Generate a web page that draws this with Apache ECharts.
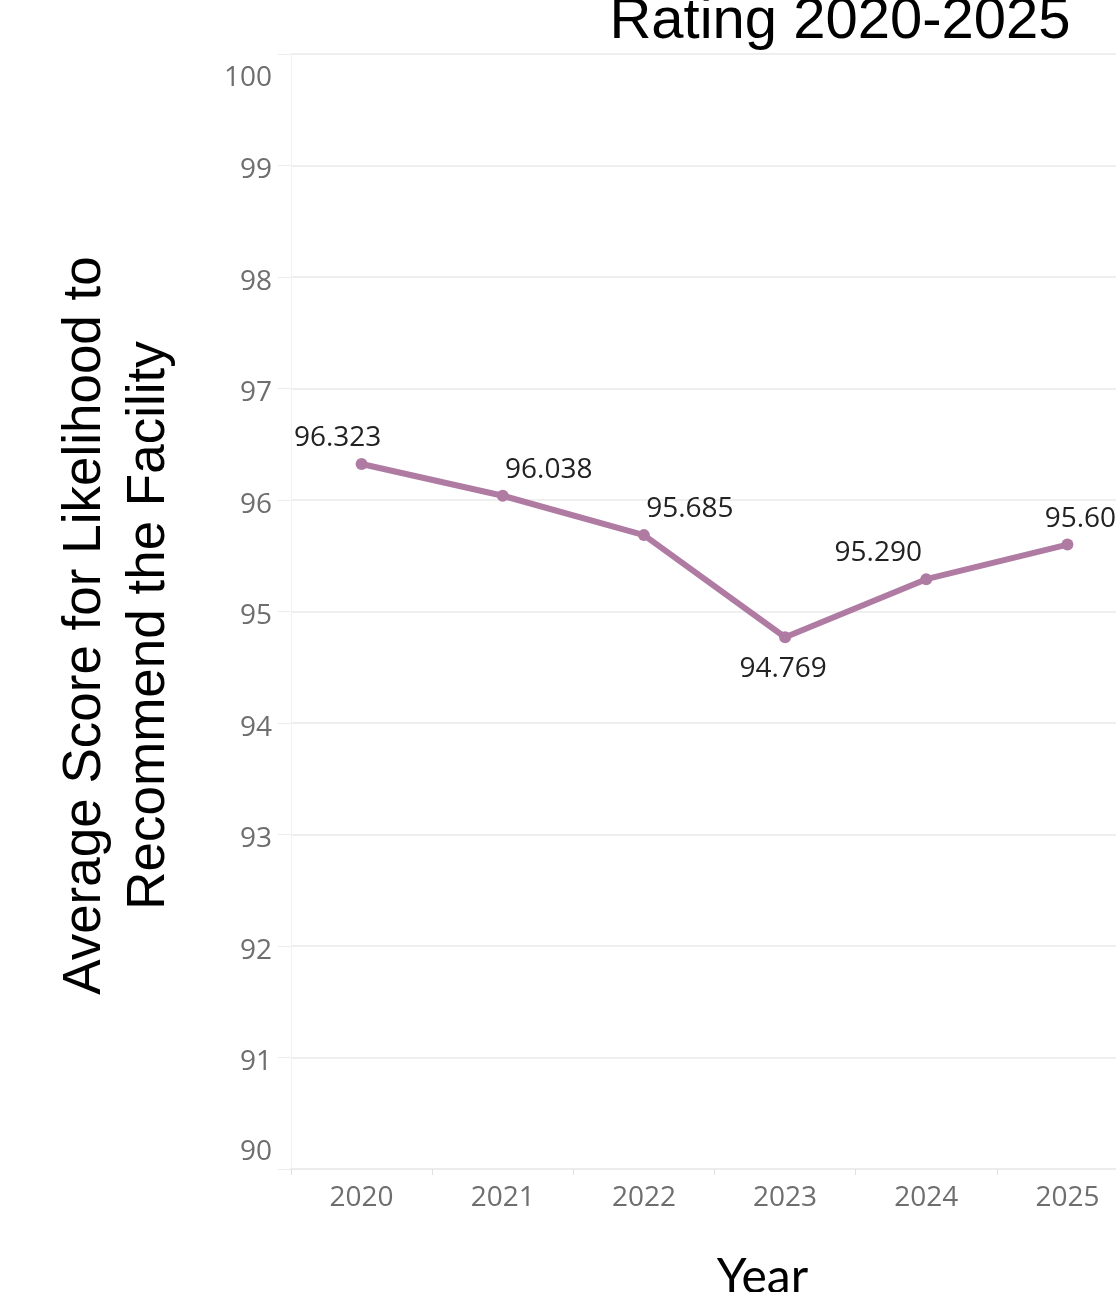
<!DOCTYPE html>
<html>
<head>
<meta charset="utf-8">
<script src="https://cdn.jsdelivr.net/npm/echarts@6/dist/echarts.min.js"></script>
<style>
html,body{margin:0;padding:0;background:#fff;}
#chart{width:1116px;height:1292px;}
</style>
</head>
<body>
<div id="chart"></div>
<script>
// ---- data ----
const years = ['2020', '2021', '2022', '2023', '2024', '2025'];
const scores = [96.323, 96.038, 95.685, 94.769, 95.290, 95.600];
const yMin = 90;
const yMax = 100;
const yStep = 1;
const titleText = 'Rating 2020-2025';
const yName = 'Average Score for Likelihood to\nRecommend the Facility';
const xName = 'Year';

// label placement (style only)
const labelDx = [-24, 46, 46, -2, -48, 21];
const labelPos = ['top', 'top', 'top', 'bottom', 'top', 'top'];

const chart = echarts.init(document.getElementById('chart'), null, {renderer: 'canvas'});

const seriesData = scores.map((v, i) => ({
  value: v,
  label: {position: labelPos[i], offset: [labelDx[i], 3]}
}));

const option = {
  backgroundColor: '#ffffff',
  animation: false,
  title: {
    text: titleText,
    left: 835,
    top: -12,
    textAlign: 'center',
    textStyle: {fontFamily: 'Liberation Sans', fontSize: 58, fontWeight: 'normal', color: '#000'}
  },
  grid: {left: 291, top: 54, right: -22, bottom: 123, containLabel: false, outerBoundsMode: 'none'},
  xAxis: {
    type: 'category',
    data: years,
    boundaryGap: true,
    name: xName,
    nameLocation: 'middle',
    nameGap: 85,
    nameTextStyle: {fontFamily: 'Lato', fontSize: 48, color: '#000', padding: [0, 0, 0, 96]},
    axisLine: {show: true, lineStyle: {color: '#ececec', width: 2}},
    axisTick: {show: true, alignWithLabel: false, length: 6, lineStyle: {color: '#e0e0e0', width: 1}},
    axisLabel: {margin: 15, fontFamily: 'Open Sans', fontSize: 28, color: '#6e6e6e'},
    splitLine: {show: false}
  },
  yAxis: {
    type: 'value',
    min: yMin,
    max: yMax,
    interval: yStep,
    name: yName,
    nameLocation: 'middle',
    nameGap: 110,
    nameTextStyle: {fontFamily: 'Liberation Sans', fontSize: 53, color: '#000', lineHeight: 64, padding: [0, 28, 0, 0]},
    axisLine: {show: true, lineStyle: {color: '#f2f2f2', width: 1}},
    axisTick: {show: true, length: 13, lineStyle: {color: '#ececec', width: 1}},
    axisLabel: {
      margin: 19,
      fontFamily: 'Open Sans',
      fontSize: 28,
      color: '#6e6e6e',
      formatter: function (v) {
        if (v === yMax) return '{top|' + v + '}';
        if (v === yMin) return '{bot|' + v + '}';
        return '{mid|' + v + '}';
      },
      rich: {
        top: {fontFamily: 'Open Sans', fontSize: 28, color: '#6e6e6e', padding: [48, 0, 0, 0]},
        bot: {fontFamily: 'Open Sans', fontSize: 28, color: '#6e6e6e', padding: [0, 0, 34, 0]},
        mid: {fontFamily: 'Open Sans', fontSize: 28, color: '#6e6e6e', padding: [10, 0, 0, 0]}
      }
    },
    splitLine: {show: true, lineStyle: {color: '#efefef', width: 2}}
  },
  series: [{
    type: 'line',
    data: seriesData,
    symbol: 'circle',
    symbolSize: 12,
    lineStyle: {color: '#b07ba3', width: 6},
    itemStyle: {color: '#b07ba3'},
    label: {
      show: true,
      distance: 9,
      fontFamily: 'Open Sans',
      fontSize: 28,
      color: '#222',
      formatter: p => p.value.toFixed(3)
    }
  }]
};
chart.setOption(option);
</script>
</body>
</html>
